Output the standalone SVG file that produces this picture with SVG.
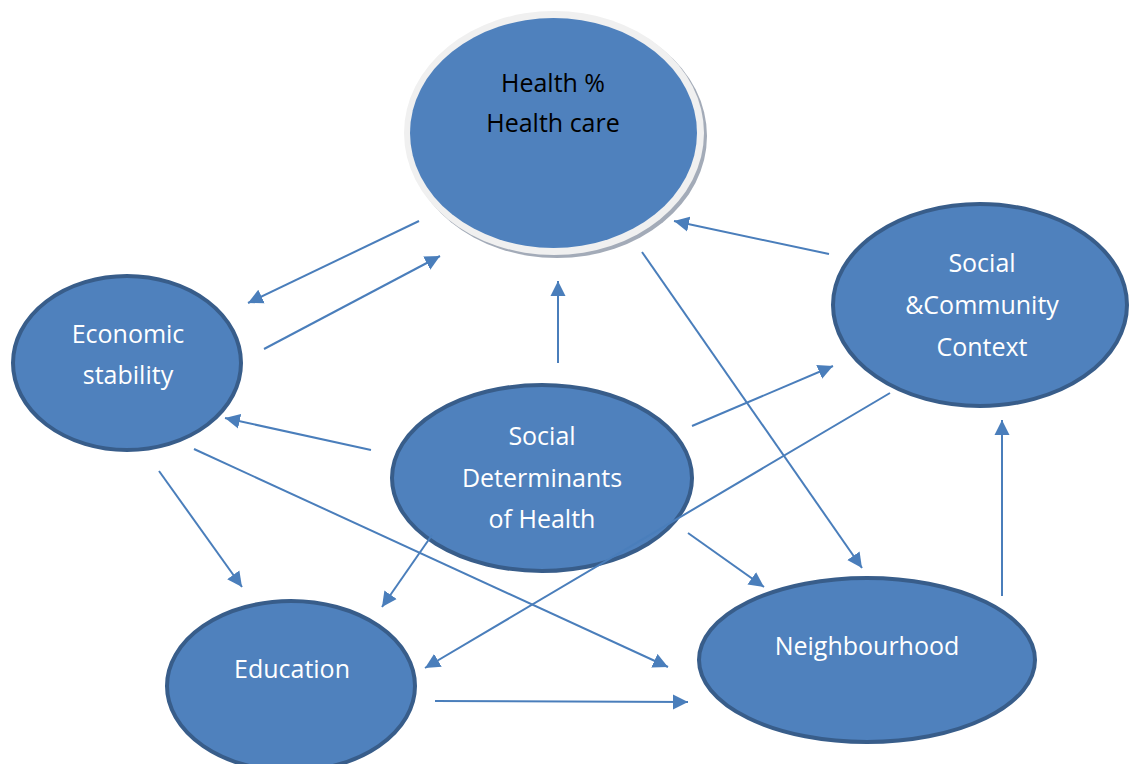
<svg xmlns="http://www.w3.org/2000/svg" width="1129" height="764" viewBox="0 0 1129 764">
<defs>
<marker id="ah" markerUnits="userSpaceOnUse" markerWidth="16" markerHeight="16" refX="15" refY="7.5" orient="auto" viewBox="0 0 16 15">
<path d="M0,0 L15,7.5 L0,15 z" fill="#4a7ebb"/>
</marker>
</defs>
<style>
.node{fill:#4f81bd;stroke:#385d8a;stroke-width:4}
.lbl{font-family:"Open Sans","Noto Sans","Liberation Sans",sans-serif;font-size:25px;fill:#ffffff;text-anchor:middle}
.dark{fill:#000000}
.conn line{stroke:#4a7ebb;stroke-width:2;marker-end:url(#ah)}
</style>
<rect width="1129" height="764" fill="#ffffff"/>
<g id="node-health">
<ellipse cx="557" cy="136" rx="150" ry="122" fill="#a3abb8"/>
<ellipse cx="554" cy="133" rx="150" ry="122" fill="#f0f0f0"/>
<ellipse cx="553.5" cy="133" rx="143.5" ry="115" fill="#4f81bd"/>
<text class="lbl dark" x="553" y="92">Health %</text>
<text class="lbl dark" x="553" y="132">Health care</text>
</g>
<g id="node-economic">
<ellipse class="node" cx="127" cy="363" rx="114" ry="87"/>
<text class="lbl" x="128" y="343">Economic</text>
<text class="lbl" x="128" y="384">stability</text>
</g>
<g id="node-sdh">
<ellipse class="node" cx="542" cy="478" rx="150" ry="93"/>
<text class="lbl" x="542" y="445">Social</text>
<text class="lbl" x="542" y="487">Determinants</text>
<text class="lbl" x="542" y="528">of Health</text>
</g>
<g id="node-community">
<ellipse class="node" cx="980" cy="305" rx="147" ry="101"/>
<text class="lbl" x="982" y="272">Social</text>
<text class="lbl" x="982" y="314">&amp;Community</text>
<text class="lbl" x="982" y="356">Context</text>
</g>
<g id="node-education">
<ellipse class="node" cx="291" cy="686" rx="124" ry="85"/>
<text class="lbl" x="292" y="678">Education</text>
</g>
<g id="node-neighbourhood">
<ellipse class="node" cx="867" cy="660" rx="168" ry="82"/>
<text class="lbl" x="867" y="655">Neighbourhood</text>
</g>
<g id="connectors" class="conn">
<line x1="419" y1="221" x2="248" y2="303"/>
<line x1="264" y1="349" x2="440" y2="256"/>
<line x1="558" y1="363" x2="558" y2="281"/>
<line x1="829" y1="254" x2="674" y2="221"/>
<line x1="642" y1="252" x2="862" y2="568"/>
<line x1="371" y1="450" x2="225" y2="418"/>
<line x1="692" y1="426" x2="833" y2="366"/>
<line x1="890" y1="393" x2="425" y2="668"/>
<line x1="159" y1="471" x2="242" y2="587"/>
<line x1="194" y1="449" x2="668" y2="667"/>
<line x1="432" y1="535" x2="382" y2="607"/>
<line x1="688" y1="533" x2="764" y2="587"/>
<line x1="1002" y1="596" x2="1002" y2="420"/>
<line x1="435" y1="701" x2="688" y2="702"/>
</g>
</svg>
